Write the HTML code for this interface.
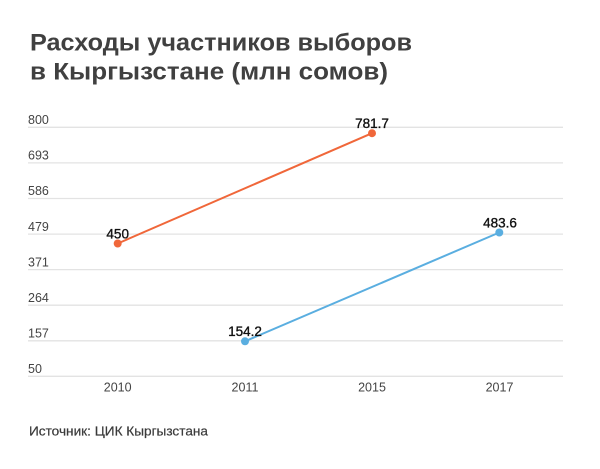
<!DOCTYPE html>
<html><head><meta charset="utf-8"><style>
html,body{margin:0;padding:0;background:#fff;}
svg{display:block;font-family:"Liberation Sans",sans-serif;}
</style></head><body>
<svg width="600" height="469" viewBox="0 0 600 469" xmlns="http://www.w3.org/2000/svg">
<rect width="600" height="469" fill="#fff"/>
<g font-weight="bold" fill="#404040" font-size="24">
<text x="30" y="50.5" textLength="382" lengthAdjust="spacingAndGlyphs">Расходы участников выборов</text>
<text x="30" y="79.5" textLength="358" lengthAdjust="spacingAndGlyphs">в Кыргызстане (млн сомов)</text>
</g>
<g stroke="#e3e3e3" stroke-width="1.3">
<line x1="28" x2="563" y1="127.3" y2="127.3"/>
<line x1="28" x2="563" y1="162.9" y2="162.9"/>
<line x1="28" x2="563" y1="198.5" y2="198.5"/>
<line x1="28" x2="563" y1="234.1" y2="234.1"/>
<line x1="28" x2="563" y1="269.6" y2="269.6"/>
<line x1="28" x2="563" y1="305.2" y2="305.2"/>
<line x1="28" x2="563" y1="340.8" y2="340.8"/>
<line x1="28" x2="563" y1="376.3" y2="376.3"/>
</g>
<g fill="#444" font-size="12.5">
<text x="28" y="124">800</text>
<text x="28" y="159.6">693</text>
<text x="28" y="195.2">586</text>
<text x="28" y="230.8">479</text>
<text x="28" y="266.3">371</text>
<text x="28" y="301.9">264</text>
<text x="28" y="337.5">157</text>
<text x="28" y="373">50</text>
</g>
<g fill="#444" font-size="12.5" text-anchor="middle">
<text x="117.7" y="391.5">2010</text>
<text x="245" y="391.5">2011</text>
<text x="372" y="391.5">2015</text>
<text x="499.5" y="391.5">2017</text>
</g>
<line x1="117.7" y1="243.5" x2="372" y2="133.2" stroke="#f0673a" stroke-width="2"/>
<line x1="245" y1="341.3" x2="499.3" y2="232.5" stroke="#5aaee0" stroke-width="2"/>
<circle cx="117.7" cy="243.5" r="4" fill="#f0673a"/>
<circle cx="372" cy="133.2" r="4" fill="#f0673a"/>
<circle cx="245" cy="341.3" r="4" fill="#5aaee0"/>
<circle cx="499.3" cy="232.5" r="4" fill="#5aaee0"/>
<g fill="#111" stroke="#111" stroke-width="0.35" font-size="13.5" text-anchor="middle">
<text x="117.7" y="238.3">450</text>
<text x="372" y="128">781.7</text>
<text x="245" y="336">154.2</text>
<text x="500" y="227.3">483.6</text>
</g>
<text x="29" y="435.7" fill="#3a3a3a" stroke="#3a3a3a" stroke-width="0.2" font-size="13" textLength="179" lengthAdjust="spacingAndGlyphs">Источник: ЦИК Кыргызстана</text>
</svg>
</body></html>
